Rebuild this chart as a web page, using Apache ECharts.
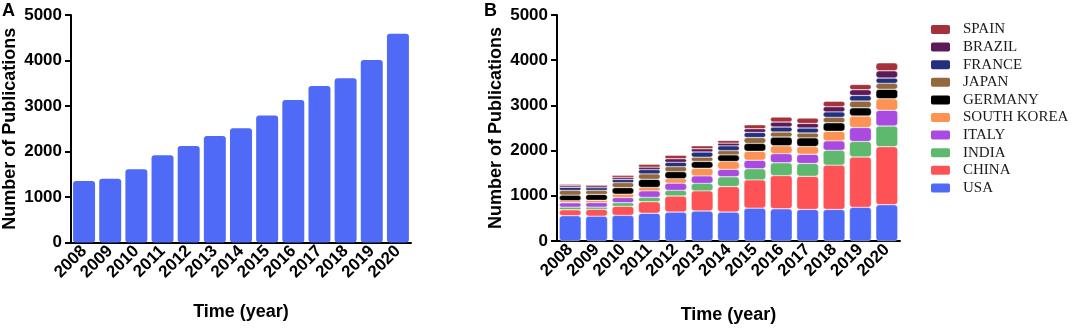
<!DOCTYPE html>
<html>
<head>
<meta charset="utf-8">
<script src="https://cdn.jsdelivr.net/npm/echarts@6/dist/echarts.min.js"></script>
<style>
  html, body { margin: 0; padding: 0; background: #fff; }
  #chart { width: 1072px; height: 329px; }
</style>
</head>
<body>
<div id="chart"></div>
<script>
// Годы (общие для обеих панелей)
const years = ['2008', '2009', '2010', '2011', '2012', '2013', '2014', '2015', '2016', '2017', '2018', '2019', '2020'];

// Панель A: всего публикаций
const totalPubs = [1350, 1400, 1610, 1920, 2120, 2340, 2510, 2790, 3130, 3440, 3610, 4010, 4590];

// Панель B: по странам (снизу вверх)
const countries = ['USA', 'CHINA', 'INDIA', 'ITALY', 'SOUTH KOREA', 'GERMANY', 'JAPAN', 'FRANCE', 'BRAZIL', 'SPAIN'];
const usa        = [560, 550, 567, 615, 640, 665, 640, 727, 712, 698, 698, 745, 803];
const china      = [130, 150, 200, 255, 355, 445, 565, 625, 735, 733, 981, 1115, 1283];
const india      = [60, 50, 80, 95, 125, 165, 215, 247, 283, 284, 327, 342, 458];
const italy      = [95, 100, 115, 145, 160, 165, 165, 189, 203, 203, 210, 308, 348];
const southKorea = [45, 50, 75, 75, 100, 170, 175, 196, 174, 172, 211, 256, 255];
const germany    = [125, 130, 145, 180, 155, 150, 145, 175, 193, 192, 189, 181, 211];
const japan      = [105, 90, 110, 120, 110, 95, 95, 130, 112, 109, 120, 149, 130];
const france     = [70, 60, 70, 95, 95, 115, 105, 113, 110, 109, 120, 123, 117];
const brazil     = [35, 40, 45, 55, 80, 70, 60, 83, 110, 101, 116, 128, 160];
const spain      = [30, 25, 45, 60, 75, 65, 60, 85, 108, 117, 120, 116, 175];

const countryData = [usa, china, india, italy, southKorea, germany, japan, france, brazil, spain];
const countryColors = ['#4f6af7', '#fd5356', '#5eb86d', '#a94ae0', '#fd9352', '#000000', '#95673c', '#22307e', '#5c1b58', '#a5323a'];

const yTicks = { min: 0, max: 5000, interval: 1000 };

const boldFont = 'Liberation Sans, Arial, sans-serif';

function makeXAxis(gridIndex, nameGap) {
    return {
        type: 'category',
        gridIndex: gridIndex,
        data: years,
        name: 'Time (year)',
        nameLocation: 'middle',
        nameGap: nameGap,
        nameTextStyle: { color: '#000', fontSize: 18, fontWeight: 'bold', fontFamily: boldFont },
        axisLine: { lineStyle: { color: '#000', width: 2 } },
        axisTick: { alignWithLabel: true, length: 6, lineStyle: { color: '#000', width: 2 } },
        axisLabel: {
            rotate: 45,
            interval: 0,
            margin: 6,
            color: '#000',
            fontSize: 17,
            fontWeight: 'bold',
            fontFamily: boldFont
        }
    };
}

function makeYAxis(gridIndex) {
    return {
        type: 'value',
        gridIndex: gridIndex,
        min: yTicks.min,
        max: yTicks.max,
        interval: yTicks.interval,
        name: 'Number of Publications',
        nameLocation: 'middle',
        nameGap: 52,
        nameTextStyle: { color: '#000', fontSize: 18, fontWeight: 'bold', fontFamily: boldFont },
        axisLine: { show: true, lineStyle: { color: '#000', width: 2 } },
        axisTick: { show: true, length: 6, lineStyle: { color: '#000', width: 2 } },
        axisLabel: {
            margin: 9,
            color: '#000',
            fontSize: 17,
            fontWeight: 'bold',
            fontFamily: boldFont,
            formatter: function (value) {
                return String(value);
            }
        },
        splitLine: { show: false }
    };
}

const series = [
    {
        name: 'Total',
        type: 'bar',
        xAxisIndex: 0,
        yAxisIndex: 0,
        data: totalPubs,
        barCategoryGap: '16%',
        itemStyle: { color: '#4f6af7', borderRadius: 3 }
    }
];

countries.forEach(function (name, i) {
    series.push({
        name: name,
        type: 'bar',
        stack: 'countries',
        xAxisIndex: 1,
        yAxisIndex: 1,
        data: countryData[i],
        barCategoryGap: '17%',
        itemStyle: {
            color: countryColors[i],
            borderColor: '#fff',
            borderWidth: 0.4,
            borderRadius: 3
        }
    });
});

const option = {
    animation: false,
    backgroundColor: '#fff',
    title: [
        { text: 'A', left: 2, top: 2, padding: 0, textStyle: { fontSize: 18, fontWeight: 'bold', color: '#000', fontFamily: boldFont } },
        { text: 'B', left: 484, top: 2, padding: 0, textStyle: { fontSize: 18, fontWeight: 'bold', color: '#000', fontFamily: boldFont } }
    ],
    legend: {
        orient: 'vertical',
        left: 929,
        top: 22,
        padding: 0,
        data: countries.slice().reverse(),
        itemWidth: 21,
        itemHeight: 11,
        itemGap: 2.6,
        icon: 'roundRect',
        textStyle: {
            color: '#1a1a1a',
            fontSize: 15,
            lineHeight: 15,
            fontFamily: 'Liberation Serif, Times New Roman, serif',
            padding: [0, 0, 0, 7]
        }
    },
    grid: [
        { left: 70, top: 15, width: 341, height: 227.5 },
        { left: 557, top: 15, width: 343, height: 230 }
    ],
    xAxis: [makeXAxis(0, 61), makeXAxis(1, 65)],
    yAxis: [makeYAxis(0), makeYAxis(1)],
    series: series
};

const chart = echarts.init(document.getElementById('chart'), null, { renderer: 'canvas' });
chart.setOption(option);
</script>
</body>
</html>
